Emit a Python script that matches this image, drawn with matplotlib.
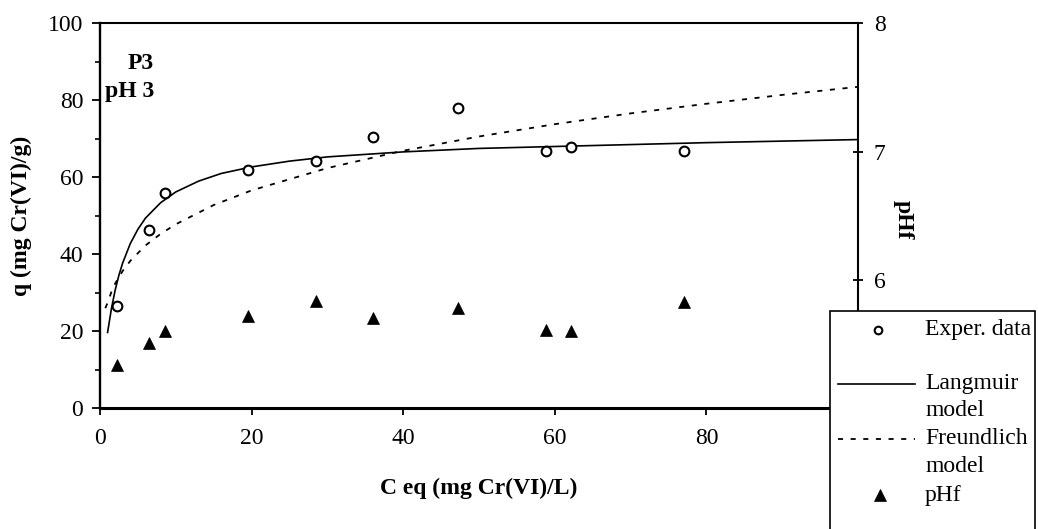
import matplotlib
matplotlib.use("Agg")
import matplotlib.pyplot as plt
from matplotlib.lines import Line2D
from matplotlib.patches import Rectangle
from matplotlib.ticker import MultipleLocator, NullLocator

plt.rcParams['font.family'] = ['Liberation Serif', 'DejaVu Serif']

# experimental points
c_eq = [2.2, 6.4, 8.6, 19.5, 28.5, 36.0, 47.2, 58.8, 62.1, 77.1]
q_exp = [26.6, 46.3, 55.8, 61.9, 64.3, 70.5, 78.1, 66.9, 67.9, 66.9]
ph_final = [5.34, 5.51, 5.60, 5.72, 5.84, 5.70, 5.78, 5.61, 5.60, 5.83]

# model curves
c_lang = [1.0, 1.5, 2, 2.5, 3, 4, 5, 6, 8, 10, 13, 16, 20, 25, 30, 40, 50, 60, 70, 80, 90, 100]
q_lang = [19.7, 25.8, 30.7, 34.6, 37.8, 42.8, 46.5, 49.4, 53.4, 56.2, 59.0, 61.0, 62.7,
          64.2, 65.3, 66.6, 67.5, 68.0, 68.5, 69.0, 69.4, 69.8]
c_freu = [0.7, 1, 1.5, 2, 3, 4, 6, 8, 10, 15, 20, 30, 40, 50, 60, 70, 80, 90, 100]
q_freu = [26.0, 27.4, 30.2, 32.4, 35.7, 38.3, 42.3, 45.3, 47.8, 52.8, 56.6, 62.4, 66.9,
          70.6, 73.8, 76.6, 79.1, 81.4, 83.5]

legend_labels = ["Exper. data", "Langmuir", "model", "Freundlich", "model", "pHf"]

W, H = 1038, 529
fig = plt.figure(figsize=(W / 100, H / 100), dpi=100)
ax = fig.add_axes([100 / W, 1 - 408.3 / H, 758 / W, 385 / H])
ax2 = ax.twinx()

ax.plot(c_lang, q_lang, color='black', lw=1.2, zorder=2)
ax.plot(c_freu, q_freu, color='black', lw=1.3, linestyle=(0, (2.8, 4.2)), zorder=2)
ax.plot(c_eq, q_exp, linestyle='none', marker='o', ms=7, mfc='white', mec='black', mew=1.5, zorder=3)
ax2.plot(c_eq, ph_final, linestyle='none', marker='^', ms=9, mfc='black', mec='black', mew=0.5)

ax.set_xlim(0, 100)
ax.set_ylim(0, 100)
ax2.set_ylim(5, 8)
ax.xaxis.set_major_locator(MultipleLocator(20))
ax.xaxis.set_minor_locator(NullLocator())
ax.yaxis.set_major_locator(MultipleLocator(20))
ax.yaxis.set_minor_locator(MultipleLocator(10))
ax2.yaxis.set_major_locator(MultipleLocator(1))

ax.tick_params(axis='y', which='major', direction='out', length=6, width=1.3, pad=6, labelsize=17)
ax.tick_params(axis='y', which='minor', direction='out', length=3.5, width=1.2)
ax.tick_params(axis='x', direction='out', length=5, width=1.3, pad=9, labelsize=17)
ax2.tick_params(axis='y', direction='inout', length=7, width=1.3, pad=8, labelsize=17)

for s in ['left', 'bottom', 'top', 'right']:
    ax.spines[s].set_color('black')
ax.spines['left'].set_linewidth(1.7)
ax.spines['bottom'].set_linewidth(2.2)
ax.spines['top'].set_linewidth(1.5)
ax.spines['right'].set_visible(False)
for s in ['left', 'bottom', 'top']:
    ax2.spines[s].set_visible(False)
ax2.spines['right'].set_linewidth(1.5)

ax.set_xlabel("C eq (mg Cr(VI)/L)", fontsize=17, fontweight='bold', va='center')
ax.xaxis.set_label_coords(0.5, -0.207)
ax.set_ylabel("q (mg Cr(VI)/g)", fontsize=17, fontweight='bold', va='center', ha='center')
ax.yaxis.set_label_coords(-0.104, 0.5)
ax2.set_ylabel("pHf", fontsize=17, fontweight='bold', rotation=270, va='center', ha='center')
ax2.yaxis.set_label_coords(1.059, 0.49)

ax.text(0.0712, 0.896, "P3", transform=ax.transAxes, ha='right', va='center',
        fontsize=17, fontweight='bold')
ax.text(0.0712, 0.822, "pH 3", transform=ax.transAxes, ha='right', va='center',
        fontsize=17, fontweight='bold')

# legend box, partly cut by the figure edge as in the original
def fx(px):
    return px / W

def fy(py):
    return 1 - py / H

fig.add_artist(Rectangle((fx(830), fy(560)), fx(1035) - fx(830), fy(311) - fy(560),
                         transform=fig.transFigure, facecolor='white', edgecolor='black',
                         lw=1.2, zorder=5))
fig.add_artist(Line2D([fx(878)], [fy(330)], transform=fig.transFigure, linestyle='none',
                      marker='o', ms=5.5, mfc='white', mec='black', mew=1.5, zorder=6))
fig.add_artist(Line2D([fx(838), fx(915)], [fy(384)] * 2, transform=fig.transFigure,
                      color='black', lw=1.2, zorder=6))
fig.add_artist(Line2D([fx(838), fx(915)], [fy(439)] * 2, transform=fig.transFigure,
                      color='black', lw=1.3, linestyle=(0, (2.8, 4.2)), zorder=6))
fig.add_artist(Line2D([fx(880)], [fy(495)], transform=fig.transFigure, linestyle='none',
                      marker='^', ms=9, mfc='black', mec='black', mew=0.5, zorder=6))
for lab, py in zip(legend_labels, [330, 384, 411, 439, 467, 495]):
    fig.text(fx(925), fy(py), lab, ha='left', va='center', fontsize=17, zorder=7)

fig.savefig("out.png", dpi=100)
